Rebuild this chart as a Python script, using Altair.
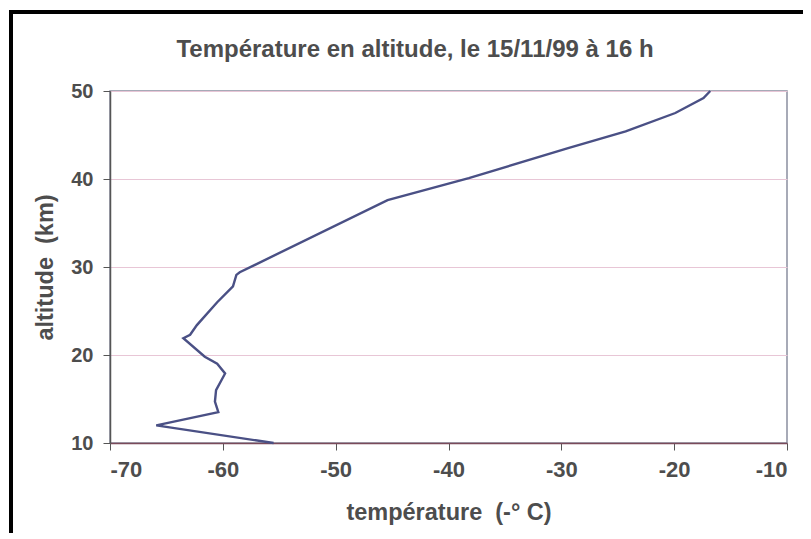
import altair as alt
import pandas as pd

altitude_km = [10, 12, 13.5, 14.7, 16, 17.9, 19, 19.8, 21.9, 22.3, 23.4, 26, 27.8, 29.1, 29.4,
               37.6, 40.1, 43.5, 45.4, 47.5, 49.2, 50]
temperature_c = [-55.5, -65.9, -60.4, -60.7, -60.6, -59.8, -60.5, -61.6, -63.5, -62.9, -62.3,
                 -60.5, -59.1, -58.8, -58.5, -45.4, -38.2, -29.4, -24.3, -19.9, -17.4, -16.8]
x_ticks = [-70, -60, -50, -40, -30, -20, -10]
y_ticks = [10, 20, 30, 40, 50]
title_text = "Température en altitude, le 15/11/99 à 16 h"

df = pd.DataFrame({"alt": altitude_km, "temp": temperature_c})

FONT = "Liberation Sans"
GREY = "#4d4d4d"

x = alt.X("temp:Q", scale=alt.Scale(domain=[-70, -10], nice=False),
          axis=alt.Axis(values=x_ticks, title="température\u00a0 (-° C)", grid=False,
                        labelExpr="toString(datum.value)",
                        tickSize=7, tickColor="#555", domainColor="#7a4a5a", domainWidth=1.5,
                        labelFontSize=22, labelFontWeight="bold", labelColor=GREY, labelFont=FONT,
                        labelPadding=9, titleFontSize=23.5, titleFontWeight="bold", titleColor=GREY,
                        titleFont=FONT, titlePadding=20))
y = alt.Y("alt:Q", scale=alt.Scale(domain=[10, 50], nice=False),
          axis=alt.Axis(values=y_ticks, title="altitude\u00a0 (km)", grid=True,
                        gridColor="#e8c6d6", gridWidth=1,
                        tickSize=7, tickColor="#555", domainColor="#555", domainWidth=1.5,
                        labelFontSize=20, labelFontWeight="bold", labelColor=GREY, labelFont=FONT,
                        labelPadding=10, titleFontSize=23.5, titleFontWeight="bold", titleColor=GREY,
                        titleFont=FONT, titlePadding=13))

line = alt.Chart(df).mark_line(color="#4a5085", strokeWidth=2.4).encode(
    x=x, y=y, order="alt:Q"
)

title = alt.Chart(pd.DataFrame({"t": [title_text]})).mark_text(
    font=FONT, fontSize=24, fontWeight="bold", color=GREY, align="center", baseline="alphabetic"
).encode(text="t:N", x=alt.value(305), y=alt.value(-34))

frame_left = alt.Chart(df).mark_rule(color="black", strokeWidth=4).encode(
    x=alt.value(-99), y=alt.value(-81), y2=alt.value(460)
)
frame_top = alt.Chart(df).mark_rule(color="black", strokeWidth=4).encode(
    x=alt.value(-101), x2=alt.value(710), y=alt.value(-79)
)

chart = alt.layer(line, title, frame_left, frame_top).properties(
    width=677, height=352,
    autosize=alt.AutoSizeParams(type="none"),
    padding={"left": 102, "top": 83, "right": 16, "bottom": 90},
    background="white",
).configure_view(stroke="#8a8fa0", strokeWidth=1.5)

chart.save("out.html", embed_options={"renderer": "svg", "actions": False})
